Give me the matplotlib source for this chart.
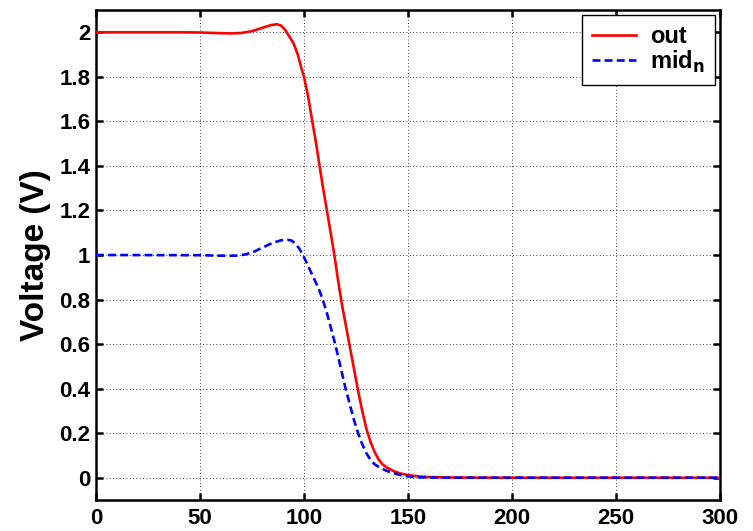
import matplotlib
matplotlib.use("Agg")
import matplotlib.pyplot as plt

plt.rcParams['font.family'] = ['Liberation Sans', 'DejaVu Sans']

out_t = [0, 40, 50, 60, 65, 70, 75, 80, 84, 87, 89, 91, 93, 95, 97, 99, 100, 102, 104,
         106, 107.5, 109, 111, 113, 114.6, 116, 118, 120, 122, 124, 126, 128, 130, 132,
         134, 136, 138, 140, 143, 146, 150, 155, 160, 170, 200, 300]
out_v = [2.0, 2.0, 1.999, 1.996, 1.995, 1.997, 2.005, 2.02, 2.032, 2.036, 2.03, 2.01,
         1.98, 1.95, 1.9, 1.83, 1.8, 1.71, 1.6, 1.49, 1.4, 1.31, 1.2, 1.09, 1.0, 0.91,
         0.79, 0.69, 0.59, 0.49, 0.39, 0.3, 0.22, 0.16, 0.115, 0.08, 0.058, 0.045, 0.03,
         0.02, 0.012, 0.006, 0.003, 0.001, 0.0, 0.0]

mid_t = [0, 50, 60, 68, 72, 76, 80, 85, 89, 92, 94, 96, 98, 100, 102, 104.5, 107, 109,
         111, 113, 115, 117, 119, 120, 122, 124, 126, 128, 130, 132, 134, 136.5, 140, 145,
         150, 155, 165, 300]
mid_v = [1.0, 0.999, 0.997, 0.997, 1.003, 1.015, 1.033, 1.055, 1.066, 1.068, 1.065, 1.05,
         1.025, 0.99, 0.95, 0.9, 0.85, 0.8, 0.74, 0.67, 0.6, 0.52, 0.44, 0.4, 0.33, 0.26,
         0.2, 0.15, 0.11, 0.08, 0.06, 0.045, 0.03, 0.015, 0.006, 0.002, 0.0, 0.0]

xticks = [0, 50, 100, 150, 200, 250, 300]
yticks = [0, 0.2, 0.4, 0.6, 0.8, 1, 1.2, 1.4, 1.6, 1.8, 2]
ytick_labels = ['0', '0.2', '0.4', '0.6', '0.8', '1', '1.2', '1.4', '1.6', '1.8', '2']

fig = plt.figure(figsize=(7.53, 5.31), dpi=100)
ax = fig.add_axes([96/753, 1 - 500/531, 624/753, 490/531])

ax.plot(out_t, out_v, color='red', lw=1.9, label='out', zorder=3)
ax.plot(mid_t, mid_v, color='blue', lw=1.9, dashes=(3, 1.6), label='mid$_\\mathbf{n}$', zorder=4)

ax.set_xlim(0, 300)
ax.set_ylim(-0.1, 2.1)
ax.set_xticks(xticks)
ax.set_yticks(yticks)
ax.set_yticklabels(ytick_labels)
ax.grid(True, color='black', linestyle=(0, (1, 3)), linewidth=0.6)
ax.tick_params(direction='in', length=5, width=1.8, top=True, right=True,
               labelsize=16)
ax.tick_params(axis='x', pad=6)
ax.tick_params(axis='y', pad=4)
for lbl in ax.get_xticklabels() + ax.get_yticklabels():
    lbl.set_fontweight('bold')
for s in ax.spines.values():
    s.set_linewidth(1.8)

ax.set_ylabel('Voltage (V)', fontsize=24, fontweight='bold', labelpad=6)

leg = ax.legend(loc='upper right', frameon=True, fancybox=False,
                edgecolor='black', framealpha=1, handlelength=1.85,
                handletextpad=0.6, labelspacing=0.0, borderpad=0.45,
                borderaxespad=0.2, prop={'weight': 'bold', 'size': 17})
leg.get_frame().set_linewidth(1.0)

fig.savefig('out.png', dpi=100)
